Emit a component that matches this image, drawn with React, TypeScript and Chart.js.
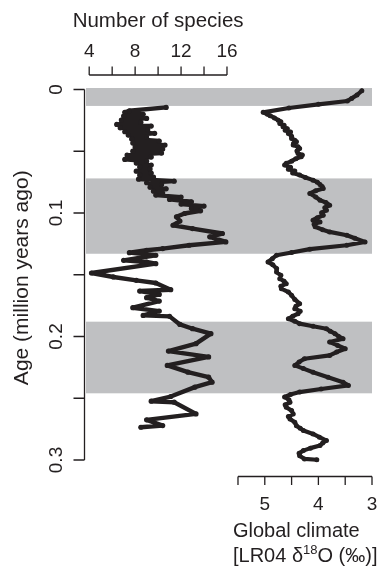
import React, { useEffect, useRef } from 'react';
import { Chart, registerables } from 'chart.js';
Chart.register(...registerables);

// ---- Data ----
const speciesAge = [
  0.0145, 0.0172, 0.0185, 0.0201, 0.0215, 0.0234, 0.0247, 0.0266, 0.0283, 0.0296,
  0.0310, 0.0326, 0.0342, 0.0355, 0.0369, 0.0385, 0.0401, 0.0417, 0.0434, 0.0450,
  0.0466, 0.0482, 0.0499, 0.0515, 0.0531, 0.0547, 0.0566, 0.0580, 0.0596, 0.0612,
  0.0628, 0.0644, 0.0661, 0.0677, 0.0693, 0.0709, 0.0726, 0.0742, 0.0755, 0.0769,
  0.0791, 0.0804, 0.0823, 0.0839, 0.0855, 0.0871, 0.0890, 0.0909, 0.0928, 0.0944,
  0.0963, 0.0982, 0.1004, 0.1031, 0.1065, 0.1099, 0.1126, 0.1166, 0.1193, 0.1234,
  0.1261, 0.1288, 0.1302, 0.1321, 0.1342, 0.1383, 0.1397, 0.1410, 0.1486, 0.1518,
  0.1545, 0.1567, 0.1621, 0.1632, 0.1659, 0.1686, 0.1713, 0.1767, 0.1794, 0.1829,
  0.1837, 0.1902, 0.1937, 0.1977, 0.2058, 0.2118, 0.2165, 0.2234, 0.2289, 0.2329,
  0.2370, 0.2410, 0.2486, 0.2524, 0.2532, 0.2627, 0.2675, 0.2721, 0.2735,
];
const speciesCount = [
  10.7, 7.5, 7.1, 8.7, 7.0, 9.0, 6.8, 8.5, 6.4, 9.4,
  6.7, 9.1, 7.1, 9.7, 7.4, 9.0, 7.7, 10.1, 7.8, 10.6,
  8.0, 10.4, 7.8, 10.3, 7.3, 9.4, 7.1, 9.0, 8.1, 9.4,
  8.4, 9.3, 8.1, 9.4, 8.4, 9.6, 8.3, 11.4, 9.0, 10.3,
  9.3, 10.7, 9.6, 10.4, 9.8, 12.0, 11.0, 12.9, 12.0, 14.0,
  12.9, 13.7, 12.3, 11.6, 11.9, 11.3, 13.0, 15.6, 14.5, 15.9,
  12.7, 10.4, 9.0, 7.5, 9.8, 7.0, 9.0, 9.8, 4.2, 6.1,
  8.1, 9.8, 11.1, 8.4, 10.1, 9.0, 10.1, 7.8, 10.1, 8.7,
  11.0, 11.9, 13.0, 14.6, 13.3, 10.9, 14.4, 10.8, 12.6, 14.4,
  14.7, 13.2, 11.1, 9.4, 11.4, 13.3, 9.0, 10.4, 8.5,
];
const climateAge = [
  0.0010, 0.0045, 0.0072, 0.0093, 0.0120, 0.0150, 0.0185, 0.0200, 0.0212, 0.0230,
  0.0248, 0.0262, 0.0275, 0.0290, 0.0302, 0.0318, 0.0330, 0.0345, 0.0356, 0.0378,
  0.0396, 0.0410, 0.0423, 0.0437, 0.0450, 0.0463, 0.0477, 0.0497, 0.0518, 0.0530,
  0.0545, 0.0560, 0.0580, 0.0598, 0.0612, 0.0630, 0.0645, 0.0660, 0.0676, 0.0693,
  0.0712, 0.0734, 0.0750, 0.0769, 0.0785, 0.0801, 0.0820, 0.0842, 0.0870, 0.0896,
  0.0915, 0.0937, 0.0957, 0.0977, 0.0998, 0.1018, 0.1038, 0.1058, 0.1072, 0.1092,
  0.1112, 0.1135, 0.1153, 0.1180, 0.1205, 0.1234, 0.1261, 0.1293, 0.1320, 0.1342,
  0.1370, 0.1396, 0.1420, 0.1450, 0.1478, 0.1505, 0.1532, 0.1552, 0.1572, 0.1593,
  0.1613, 0.1640, 0.1667, 0.1700, 0.1734, 0.1755, 0.1775, 0.1795, 0.1815, 0.1836,
  0.1856, 0.1876, 0.1896, 0.1917, 0.1937, 0.1957, 0.1977, 0.2000, 0.2018, 0.2045,
  0.2072, 0.2099, 0.2126, 0.2153, 0.2180, 0.2207, 0.2234, 0.2260, 0.2289, 0.2330,
  0.2370, 0.2396, 0.2425, 0.2450, 0.2470, 0.2490, 0.2512, 0.2533, 0.2553, 0.2573,
  0.2600, 0.2627, 0.2648, 0.2668, 0.2695, 0.2722, 0.2742, 0.2762, 0.2789, 0.2815,
  0.2843, 0.2863, 0.2883, 0.2904, 0.2924, 0.2945, 0.2965, 0.2991, 0.2998,
];
const climateD18O = [
  3.19, 3.28, 3.38, 3.46, 4.0, 4.55, 5.03, 4.95, 4.90, 4.82,
  4.75, 4.70, 4.72, 4.64, 4.66, 4.58, 4.62, 4.52, 4.56, 4.50,
  4.50, 4.44, 4.41, 4.46, 4.47, 4.38, 4.35, 4.40, 4.38, 4.30,
  4.32, 4.42, 4.50, 4.60, 4.63, 4.52, 4.56, 4.44, 4.48, 4.35,
  4.24, 4.10, 4.02, 3.97, 3.93, 3.91, 4.05, 4.16, 4.05, 3.97,
  3.86, 3.79, 3.88, 3.85, 3.94, 3.91, 4.02, 4.10, 3.97, 4.08,
  4.06, 3.92, 3.79, 3.47, 3.32, 3.13, 3.47, 4.16, 4.50, 4.78,
  4.86, 4.94, 4.85, 4.78, 4.78, 4.70, 4.72, 4.64, 4.60, 4.70,
  4.69, 4.56, 4.50, 4.44, 4.35, 4.42, 4.44, 4.34, 4.38, 4.48,
  4.56, 4.44, 4.35, 4.10, 3.85, 3.78, 3.69, 3.62, 3.54, 3.79,
  3.64, 3.50, 3.66, 3.79, 4.26, 4.36, 4.44, 4.28, 4.10, 3.82,
  3.54, 3.44, 3.95, 4.35, 4.52, 4.63, 4.55, 4.53, 4.62, 4.60,
  4.50, 4.47, 4.56, 4.53, 4.44, 4.41, 4.34, 4.28, 4.10, 3.98,
  3.85, 3.92, 3.97, 4.15, 4.28, 4.36, 4.35, 4.26, 4.03,
];
const bandStart = [0, 0.072, 0.188];
const bandEnd = [0.0133, 0.133, 0.246];
const ageTicks = [0, 0.05, 0.1, 0.15, 0.2, 0.25, 0.3];
const ageTickLabels = ['0', '', '0.1', '', '0.2', '', '0.3'];
const speciesTicks = [4, 6, 8, 10, 12, 14, 16];
const speciesTickLabels = ['4', '', '8', '', '12', '', '16'];
const climateTicks = [5.5, 5, 4.5, 4, 3.5, 3];
const climateTickLabels = ['', '5', '', '4', '', '3'];

const INK = '#231f20';
const BAND = '#bfc0c2';
const FONT = '"Liberation Sans", Arial, Helvetica, sans-serif';

const rAxesPlugin = {
  id: 'rAxes',
  beforeDatasetsDraw(chart: any) {
    const { ctx, chartArea, scales } = chart;
    const y = scales.y;
    ctx.save();
    ctx.fillStyle = BAND;
    for (let i = 0; i < bandStart.length; i++) {
      const t = y.getPixelForValue(bandStart[i]);
      const b = y.getPixelForValue(bandEnd[i]);
      ctx.fillRect(chartArea.left + 1, t - (i === 0 ? 1.5 : 0), chartArea.right - chartArea.left - 1, b - t + (i === 0 ? 1.5 : 0));
    }
    ctx.restore();
  },
  afterDraw(chart: any) {
    const { ctx, chartArea, scales } = chart;
    const y = scales.y, xs = scales.xs, xc = scales.xc;
    ctx.save();
    ctx.strokeStyle = INK;
    ctx.fillStyle = INK;
    ctx.lineWidth = 1.3;

    // Left axis (age)
    const ax = chartArea.left - 0.5;
    ctx.beginPath();
    ctx.moveTo(ax, y.getPixelForValue(ageTicks[0]));
    ctx.lineTo(ax, y.getPixelForValue(ageTicks[ageTicks.length - 1]));
    for (const t of ageTicks) {
      const py = y.getPixelForValue(t);
      ctx.moveTo(ax, py);
      ctx.lineTo(ax - 11, py);
    }
    ctx.stroke();
    ctx.font = `19px ${FONT}`;
    ctx.textAlign = 'center';
    ctx.textBaseline = 'alphabetic';
    ageTicks.forEach((t, i) => {
      if (!ageTickLabels[i]) return;
      const py = y.getPixelForValue(t);
      ctx.save();
      ctx.translate(chartArea.left - 23.5, py);
      ctx.rotate(-Math.PI / 2);
      ctx.fillText(ageTickLabels[i], 0, 0);
      ctx.restore();
    });
    ctx.save();
    ctx.font = `21px ${FONT}`;
    ctx.translate(chartArea.left - 57, (chartArea.top + chartArea.bottom) / 2 + 3);
    ctx.rotate(-Math.PI / 2);
    ctx.fillText('Age (million years ago)', 0, 0);
    ctx.restore();

    // Top axis (species)
    const ty = chartArea.top - 14.5;
    ctx.beginPath();
    ctx.moveTo(xs.getPixelForValue(speciesTicks[0]), ty);
    ctx.lineTo(xs.getPixelForValue(speciesTicks[speciesTicks.length - 1]), ty);
    for (const t of speciesTicks) {
      const px = xs.getPixelForValue(t);
      ctx.moveTo(px, ty);
      ctx.lineTo(px, ty - 8.5);
    }
    ctx.stroke();
    ctx.font = `19px ${FONT}`;
    speciesTicks.forEach((t, i) => {
      if (!speciesTickLabels[i]) return;
      ctx.fillText(speciesTickLabels[i], xs.getPixelForValue(t), chartArea.top - 33);
    });
    ctx.font = `20.5px ${FONT}`;
    const sMid = (xs.getPixelForValue(speciesTicks[0]) + xs.getPixelForValue(speciesTicks[speciesTicks.length - 1])) / 2;
    ctx.fillText('Number of species', sMid, chartArea.top - 63);

    // Bottom axis (climate)
    const by = chartArea.bottom + 16.5;
    ctx.beginPath();
    ctx.moveTo(xc.getPixelForValue(climateTicks[0]), by);
    ctx.lineTo(xc.getPixelForValue(climateTicks[climateTicks.length - 1]), by);
    for (const t of climateTicks) {
      const px = xc.getPixelForValue(t);
      ctx.moveTo(px, by);
      ctx.lineTo(px, by + 8.5);
    }
    ctx.stroke();
    ctx.font = `19px ${FONT}`;
    climateTicks.forEach((t, i) => {
      if (!climateTickLabels[i]) return;
      ctx.fillText(climateTickLabels[i], xc.getPixelForValue(t), chartArea.bottom + 50);
    });
    ctx.font = `20px ${FONT}`;
    ctx.textAlign = 'left';
    const tx = xc.getPixelForValue(climateTicks[0]) - 5;
    ctx.fillText('Global climate', tx, chartArea.bottom + 76.5);
    const l2y = chartArea.bottom + 101.5;
    let cx = tx;
    const p1 = '[LR04 δ';
    ctx.fillText(p1, cx, l2y);
    cx += ctx.measureText(p1).width;
    ctx.font = `13px ${FONT}`;
    ctx.fillText('18', cx, l2y - 8);
    cx += ctx.measureText('18').width;
    ctx.font = `20px ${FONT}`;
    ctx.fillText('O (‰)]', cx, l2y);
    ctx.restore();
  },
};

export default function App() {
  const ref = useRef<HTMLCanvasElement | null>(null);
  useEffect(() => {
    if (!ref.current) return;
    const chart = new Chart(ref.current, {
      type: 'scatter',
      data: {
        datasets: [
          {
            label: 'Number of species',
            data: speciesAge.map((a, i) => ({ x: speciesCount[i], y: a })),
            xAxisID: 'xs',
            yAxisID: 'y',
            showLine: true,
            borderColor: INK,
            backgroundColor: INK,
            borderWidth: 4.4,
            pointRadius: 2.6,
            pointBorderWidth: 0,
            clip: false as any,
          },
          {
            label: 'Global climate',
            data: climateAge.map((a, i) => ({ x: climateD18O[i], y: a })),
            xAxisID: 'xc',
            yAxisID: 'y',
            showLine: true,
            borderColor: INK,
            backgroundColor: INK,
            borderWidth: 4.2,
            pointRadius: 2.5,
            pointBorderWidth: 0,
            clip: false as any,
          },
        ],
      },
      options: {
        responsive: false,
        animation: false,
        layout: { padding: { left: 85, right: 11, top: 89.5, bottom: 107 } },
        plugins: { legend: { display: false }, tooltip: { enabled: false } },
        elements: { line: { tension: 0, borderJoinStyle: 'round', borderCapStyle: 'round' } },
        scales: {
          y: { type: 'linear', reverse: true, min: 0, max: 0.3, display: false },
          xs: { type: 'linear', position: 'top', min: 3.634, max: 28.63, display: false },
          xc: { type: 'linear', position: 'bottom', reverse: true, min: 3, max: 8.354, display: false },
        },
      },
      plugins: [rAxesPlugin],
    });
    return () => chart.destroy();
  }, []);
  return (
    <div style={{ position: 'fixed', left: 0, top: 0, width: 383, height: 567, background: '#fff' }}>
      <canvas ref={ref} width={383} height={567} style={{ display: 'block', width: 383, height: 567 }} />
    </div>
  );
}
